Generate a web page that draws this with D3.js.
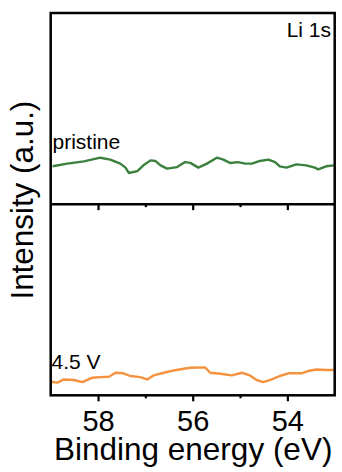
<!DOCTYPE html>
<html>
<head>
<meta charset="utf-8">
<script src="https://cdn.jsdelivr.net/npm/d3@7"></script>
<style>
  html, body { margin: 0; padding: 0; background: #fff; }
  svg { display: block; }
  text { font-family: "Liberation Sans", Arial, sans-serif; fill: #000; }
</style>
</head>
<body>
<svg id="chart" width="342" height="472"></svg>
<script>
// Li 1s XPS spectra, pristine vs. charged to 4.5 V (normalised intensity, %)
const pristineEnergy = [58.96, 58.65, 58.30, 57.95, 57.74, 57.53, 57.42, 57.35, 57.17, 57.04,
  56.89, 56.79, 56.68, 56.54, 56.33, 56.16, 56.05, 55.88, 55.70, 55.49, 55.35, 55.21, 55.04,
  54.89, 54.75, 54.58, 54.40, 54.26, 54.16, 54.02, 53.81, 53.60, 53.42, 53.35, 53.18, 53.02];
const pristineIntensity = [19.8, 21.2, 22.4, 24.3, 23.3, 21.2, 19.1, 16.3, 17.3, 20.3,
  22.9, 22.6, 20.3, 18.6, 19.4, 22.0, 21.6, 19.1, 21.2, 24.3, 23.3, 21.5, 22.0,
  21.2, 21.2, 22.6, 23.3, 22.0, 19.8, 19.1, 20.8, 20.3, 19.1, 18.2, 19.8, 20.3];

const chargedEnergy = [59.00, 58.86, 58.72, 58.51, 58.33, 58.12, 57.95, 57.77, 57.63, 57.46,
  57.32, 57.11, 56.96, 56.83, 56.61, 56.40, 56.19, 56.05, 55.74, 55.63, 55.42, 55.17, 54.96,
  54.79, 54.65, 54.51, 54.33, 54.16, 53.98, 53.70, 53.56, 53.39, 53.17, 53.02];
const chargedIntensity = [7.1, 6.6, 8.3, 8.0, 6.9, 9.2, 9.5, 9.7, 11.8, 11.5,
  10.1, 9.5, 8.3, 10.4, 11.8, 13.0, 13.9, 14.4, 14.6, 11.8, 11.3, 10.4, 11.8,
  10.4, 8.0, 6.9, 8.3, 10.1, 11.5, 11.5, 12.7, 13.5, 13.2, 13.2];

const energyDomain = [59, 53];
const majorTicks = [58, 56, 54];
const minorTicks = [57, 55];

const seriesLabels = ["pristine", "4.5 V"];
const seriesColors = ["#3b813d", "#f5923f"];
const panelTitle = "Li 1s";
const xTitle = "Binding energy (eV)";
const yTitle = "Intensity (a.u.)";

const svg = d3.select("#chart");
const plotLeft = 50.7, plotRight = 334.7, plotTop = 13, plotBottom = 395.3;
const plotMid = (plotTop + plotBottom) / 2;

const x = d3.scaleLinear().domain(energyDomain).range([plotLeft, plotRight]);
const yUpper = d3.scaleLinear().domain([0, 100]).range([plotMid, plotTop]);
const yLower = d3.scaleLinear().domain([0, 100]).range([plotBottom, plotMid]);

const panels = [
  { e: pristineEnergy, v: pristineIntensity, y: yUpper, color: seriesColors[0] },
  { e: chargedEnergy, v: chargedIntensity, y: yLower, color: seriesColors[1] }
];

panels.forEach(p => {
  const line = d3.line().x(d => x(d[0])).y(d => p.y(d[1]));
  svg.append("path")
    .datum(p.e.map((e, i) => [e, p.v[i]]))
    .attr("d", line)
    .attr("fill", "none")
    .attr("stroke", p.color)
    .attr("stroke-width", 2.4)
    .attr("stroke-linejoin", "round");
});

// series labels
svg.append("text").attr("x", 52.5).attr("y", 148.5)
  .attr("font-size", 21).text(seriesLabels[0]);
svg.append("text").attr("x", 51.5).attr("y", 369.3)
  .attr("font-size", 21).text(seriesLabels[1]);
svg.append("text").attr("x", 331).attr("y", 37.3)
  .attr("font-size", 21).attr("text-anchor", "end").text(panelTitle);

// axes: bottom (labelled) and the ticks under the panel divider
function addTicks(yPos, withLabels) {
  const major = svg.append("g").attr("transform", `translate(0,${yPos})`)
    .call(d3.axisBottom(x).tickValues(majorTicks).tickSize(6).tickPadding(9)
      .tickFormat(withLabels ? d3.format("d") : () => ""));
  const minor = svg.append("g").attr("transform", `translate(0,${yPos})`)
    .call(d3.axisBottom(x).tickValues(minorTicks).tickSize(3).tickFormat(() => ""));
  [major, minor].forEach(g => {
    g.select(".domain").remove();
    g.selectAll(".tick line").attr("stroke", "#000").attr("stroke-width", 2.2);
  });
  major.selectAll(".tick text")
    .attr("font-family", "Liberation Sans, Arial, sans-serif")
    .attr("font-size", 29).attr("fill", "#000");
}
addTicks(plotBottom, true);
addTicks(plotMid, false);

// frame and divider
svg.append("rect")
  .attr("x", plotLeft).attr("y", plotTop)
  .attr("width", plotRight - plotLeft).attr("height", plotBottom - plotTop)
  .attr("fill", "none").attr("stroke", "#000").attr("stroke-width", 2.5);
svg.append("line")
  .attr("x1", plotLeft).attr("x2", plotRight).attr("y1", plotMid).attr("y2", plotMid)
  .attr("stroke", "#000").attr("stroke-width", 2.5);

// axis titles
svg.append("text").attr("x", (plotLeft + plotRight) / 2 + 0.5).attr("y", 460)
  .attr("font-size", 31.5).attr("text-anchor", "middle").text(xTitle);
svg.append("text")
  .attr("transform", `translate(33.3,${plotMid - 4}) rotate(-90)`)
  .attr("font-size", 31.4).attr("text-anchor", "middle").text(yTitle);
</script>
</body>
</html>
